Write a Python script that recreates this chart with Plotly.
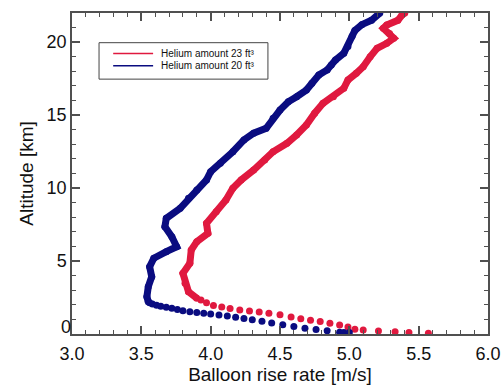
import plotly.graph_objects as go

# Helium 20 ft^3 (blue) - continuous profile (top to bottom)
blue_rate_upper = [5.22, 5.16, 5.09, 5.04, 5.02, 4.99, 4.96, 4.90, 4.87, 4.84, 4.78, 4.73, 4.69, 4.62,
                   4.56, 4.50, 4.45, 4.40, 4.31, 4.24, 4.16, 4.07, 4.00, 3.97, 3.90, 3.84, 3.78, 3.68,
                   3.67, 3.72, 3.755, 3.68, 3.59, 3.56, 3.575, 3.55, 3.54, 3.55]
blue_alt_upper = [22.0, 21.5, 21.2, 20.8, 20.4, 19.7, 19.24, 18.78, 18.44, 18.1, 17.75, 17.18, 16.72, 16.26,
                  15.92, 15.35, 14.78, 14.1, 13.76, 13.3, 12.49, 11.7, 11.12, 10.56, 9.87, 9.3, 8.61, 7.93,
                  7.35, 6.67, 5.98, 5.64, 5.19, 4.61, 3.93, 3.24, 2.56, 2.21]
# Helium 20 ft^3 (blue) - sparse near-surface samples
blue_rate_lower = [3.56, 3.58, 3.61, 3.64, 3.68, 3.72, 3.76, 3.80, 3.85, 3.90, 3.95, 4.00, 4.06, 4.12,
                   4.18, 4.24, 4.30, 4.37, 4.44, 4.52, 4.60, 4.68, 4.76, 4.84, 4.93, 4.96, 5.00]
blue_alt_lower = [2.15, 2.05, 1.97, 1.90, 1.83, 1.76, 1.68, 1.60, 1.53, 1.47, 1.42, 1.37, 1.30, 1.23,
                  1.15, 1.06, 0.97, 0.87, 0.76, 0.64, 0.52, 0.40, 0.30, 0.22, 0.12, 0.10, 0.10]

# Helium 23 ft^3 (red) - continuous profile (top to bottom)
red_rate_upper = [5.40, 5.38, 5.35, 5.27, 5.245, 5.29, 5.32, 5.27, 5.20, 5.15, 5.10, 5.05, 4.99, 4.96,
                  4.885, 4.81, 4.75, 4.69, 4.62, 4.55, 4.45, 4.39, 4.31, 4.22, 4.16, 4.11, 4.04, 3.97,
                  3.98, 3.90, 3.86, 3.85, 3.80, 3.815, 3.84, 3.90]
red_alt_upper = [22.0, 21.86, 21.5, 21.18, 20.95, 20.6, 20.27, 19.92, 19.58, 19.0, 18.32, 17.87, 17.41, 16.84,
                 16.26, 15.81, 15.13, 14.32, 13.64, 13.07, 12.49, 11.93, 11.24, 10.56, 9.99, 9.18, 8.38, 7.59,
                 6.9, 6.33, 5.76, 4.85, 4.16, 3.47, 2.9, 2.45]
# Helium 23 ft^3 (red) - sparse near-surface samples
red_rate_lower = [3.93, 3.97, 4.02, 4.08, 4.14, 4.21, 4.28, 4.35, 4.42, 4.50, 4.58, 4.65, 4.72, 4.79,
                  4.86, 4.93, 4.99, 5.04, 5.10, 5.21, 5.33, 5.43, 5.57]
red_alt_lower = [2.33, 2.15, 1.95, 1.85, 1.75, 1.65, 1.58, 1.50, 1.42, 1.32, 1.17, 1.05, 0.95, 0.85,
                 0.74, 0.62, 0.48, 0.33, 0.27, 0.21, 0.16, 0.11, 0.05]

labels = ["Helium amount 23 ft³", "Helium amount 20 ft³"]
RED = "#E0193F"
BLUE = "#0A0C80"

x_ticks = [3.0, 3.5, 4.0, 4.5, 5.0, 5.5, 6.0]
y_ticks = [0, 5, 10, 15, 20]

FONT = "Liberation Sans, Arial, sans-serif"

fig = go.Figure()
for ru, au, rl, al, col in [(red_rate_upper, red_alt_upper, red_rate_lower, red_alt_lower, RED),
                            (blue_rate_upper, blue_alt_upper, blue_rate_lower, blue_alt_lower, BLUE)]:
    fig.add_trace(go.Scatter(x=ru, y=au, mode="lines+markers", showlegend=False,
                             line=dict(color=col, width=7), marker=dict(color=col, size=7)))
    fig.add_trace(go.Scatter(x=rl, y=al, mode="markers", showlegend=False,
                             marker=dict(color=col, size=7)))
# empty trace so the overlay axis (carrying the raised "0" label) is registered
fig.add_trace(go.Scatter(x=[None], y=[None], yaxis="y2", showlegend=False, hoverinfo="skip"))

axis_common = dict(
    showgrid=False, zeroline=False, showline=True, linecolor="#505050", linewidth=1.5,
    mirror="ticks", ticks="inside", tickcolor="#505050", tickwidth=1.5, ticklen=8,
    tickfont=dict(family=FONT, size=18, color="#111"),
)

fig.update_xaxes(range=[3.0, 6.0], tickvals=x_ticks, ticktext=[f"{v:.1f}" for v in x_ticks],
                 minor=dict(dtick=0.1, ticks="inside", ticklen=4, tickcolor="#505050", tickwidth=1),
                 ticklabelstandoff=3,
                 title=dict(text="Balloon rise rate [m/s]", standoff=0,
                            font=dict(family=FONT, size=19, color="#111")),
                 **axis_common)
fig.update_yaxes(range=[0, 22], tickvals=y_ticks[1:], ticktext=[str(v) for v in y_ticks[1:]],
                 minor=dict(dtick=1, ticks="inside", ticklen=4, tickcolor="#505050", tickwidth=1,
                            tickvals=list(range(1, 22))),
                 title=dict(text="Altitude [km]", standoff=8,
                            font=dict(family=FONT, size=19, color="#111")),
                 **axis_common)

fig.update_layout(
    yaxis2=dict(overlaying="y", side="left", range=[0, 22], tickvals=[y_ticks[0]],
                ticktext=[str(y_ticks[0])], ticks="", showline=False, showgrid=False, zeroline=False,
                ticklabelshift=-7, tickfont=dict(family=FONT, size=18, color="#111")),
)

# Legend box drawn by hand (compact, as in the reference)
box_x0, box_x1, box_y0, box_y1 = 0.065, 0.471, 0.794, 0.9075
line_x0, line_x1, text_x = 0.099, 0.195, 0.209
row_y = [0.874, 0.836]
shapes = [dict(type="rect", xref="paper", yref="paper", x0=box_x0, x1=box_x1, y0=box_y0, y1=box_y1,
               line=dict(color="#444", width=1), fillcolor="white", layer="above")]
annotations = []
for lab, col, ry in zip(labels, [RED, BLUE], row_y):
    shapes.append(dict(type="line", xref="paper", yref="paper", x0=line_x0, x1=line_x1, y0=ry, y1=ry,
                       line=dict(color=col, width=1.5), layer="above"))
    annotations.append(dict(text=lab, xref="paper", yref="paper", x=text_x, y=ry, xanchor="left",
                            yanchor="middle", showarrow=False,
                            font=dict(family=FONT, size=10, color="#111")))

fig.update_layout(
    width=502, height=385,
    margin=dict(l=72, r=14, t=13, b=51, autoexpand=False),
    paper_bgcolor="white", plot_bgcolor="white",
    showlegend=False, shapes=shapes, annotations=annotations,
)

fig.write_html("out.html", config={"displayModeBar": False},
               post_script="document.body.style.margin='0';document.body.style.padding='0';")
